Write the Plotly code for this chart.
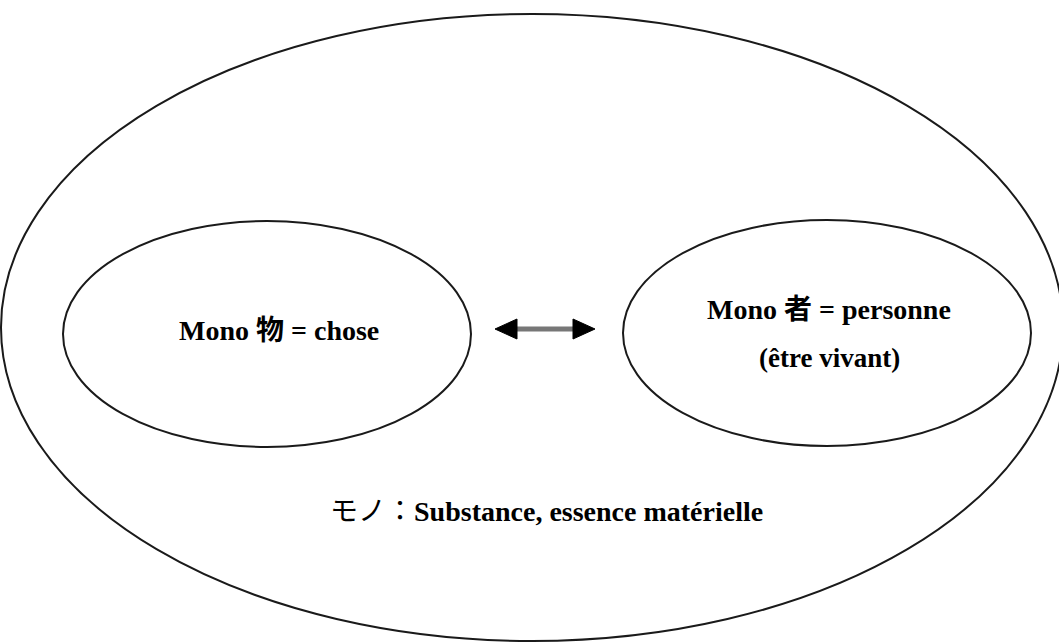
import plotly.graph_objects as go

# ---- content ----
left_label = ["Mono 物 = chose"]
right_labels = ["Mono 者 = personne", "(être vivant)"]
outer_label_jp = ["モノ："]
outer_label_fr = ["Substance, essence matérielle"]

W, H = 1059, 643
FONT = "Liberation Serif, Times New Roman, Noto Sans CJK JP, serif"

# ellipse bounds (pixel space)
outer = dict(x0=1, x1=1063, y0=14, y1=641)
left_e = dict(x0=63, x1=471, y0=221, y1=447)
right_e = dict(x0=623, x1=1031, y0=220, y1=446)

fig = go.Figure()
fig.add_trace(go.Scatter(x=[0, W], y=[0, H], mode="markers",
                         marker=dict(opacity=0), hoverinfo="skip", showlegend=False))

shapes = []
for e in (outer, left_e, right_e):
    shapes.append(dict(type="circle", xref="x", yref="y", **e,
                       line=dict(color="#1a1a1a", width=2), layer="above"))

# double arrow
ay = 329
xl, xr = 495, 595
head_len, head_half = 22, 10
shapes.append(dict(type="line", xref="x", yref="y", x0=xl + head_len - 2, x1=xr - head_len + 2,
                   y0=ay, y1=ay, line=dict(color="#777777", width=5)))
shapes.append(dict(type="path", xref="x", yref="y",
                   path=f"M {xl} {ay} L {xl+head_len} {ay-head_half} L {xl+head_len} {ay+head_half} Z",
                   fillcolor="black", line=dict(color="black", width=1)))
shapes.append(dict(type="path", xref="x", yref="y",
                   path=f"M {xr} {ay} L {xr-head_len} {ay-head_half} L {xr-head_len} {ay+head_half} Z",
                   fillcolor="black", line=dict(color="black", width=1)))

annotations = [
    dict(x=279, y=330, text=f"<b>{left_label[0]}</b>", showarrow=False,
         xref="x", yref="y", font=dict(family=FONT, size=28, color="black")),
    dict(x=829, y=309, text=f"<b>{right_labels[0]}</b>", showarrow=False,
         xref="x", yref="y", font=dict(family=FONT, size=28, color="black")),
    dict(x=829, y=358, text=f"<b>{right_labels[1]}</b>", showarrow=False,
         xref="x", yref="y", font=dict(family=FONT, size=27, color="black")),
    dict(x=546, y=511, text=f"{outer_label_jp[0]}<b>{outer_label_fr[0]}</b>", showarrow=False,
         xref="x", yref="y", font=dict(family=FONT, size=28, color="black")),
]

fig.update_layout(
    width=W, height=H,
    margin=dict(l=0, r=0, t=0, b=0),
    paper_bgcolor="white", plot_bgcolor="white",
    xaxis=dict(range=[0, W], visible=False, fixedrange=True),
    yaxis=dict(range=[H, 0], visible=False, fixedrange=True),
    shapes=shapes, annotations=annotations, showlegend=False,
)

fig.write_html("out.html", config={"displayModeBar": False},
               post_script="document.body.style.margin='0';document.body.style.overflow='hidden';")
